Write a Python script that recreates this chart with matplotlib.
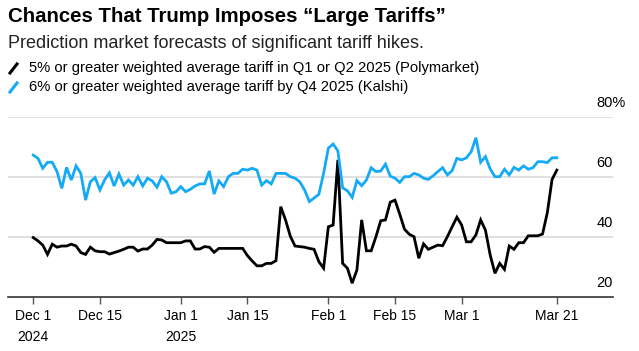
import numpy as np
import pandas as pd
import matplotlib
matplotlib.use('Agg')
import matplotlib.pyplot as plt
import matplotlib.dates as mdates
from matplotlib.lines import Line2D

# daily values, Dec 1 2024 -> Mar 21 2025
polymarket = [39.8, 38.7, 37.3, 34.2, 37.6, 36.6, 37.0, 37.0, 37.6, 37.0,
              34.8, 34.2, 36.6, 35.4, 35.1, 35.1, 34.3, 34.8, 35.3, 35.9,
              36.6, 36.6, 35.3, 36.0, 36.0, 37.3, 39.2, 39.0, 38.1, 38.1,
              38.1, 38.1, 38.7, 38.7, 36.0, 36.0, 36.8, 36.6, 34.9, 36.2,
              36.2, 36.2, 36.2, 36.2, 36.2, 33.8, 32.0, 30.4, 30.4, 31.2,
              31.2, 32.1, 50.1, 45.7, 40.3, 37.0, 36.8, 36.6, 36.2, 35.9,
              31.8, 29.6, 43.4, 44.0, 65.7, 31.2, 29.6, 24.6, 29.0, 45.7,
              35.4, 35.4, 40.1, 45.4, 45.7, 51.6, 52.3, 47.6, 42.6, 40.9,
              40.1, 32.9, 37.7, 35.9, 36.6, 37.3, 37.1, 40.1, 43.4, 46.6,
              44.0, 38.4, 38.4, 40.7, 45.7, 42.3, 34.0, 27.9, 31.2, 29.2,
              37.0, 35.9, 38.1, 38.1, 40.4, 40.4, 40.4, 41.0, 48.1, 59.2,
              62.3]
kalshi = [67.3, 66.2, 62.9, 64.9, 64.9, 61.8, 56.2, 63.2, 59.0, 63.7,
          61.2, 52.3, 58.4, 59.8, 55.7, 59.0, 61.4, 57.0, 61.0, 57.3,
          59.0, 57.3, 60.1, 57.0, 59.6, 58.7, 56.6, 60.1, 58.4, 54.6,
          55.1, 56.8, 55.1, 55.9, 57.0, 57.7, 57.7, 62.0, 54.3, 58.7,
          56.8, 60.1, 61.2, 61.2, 62.6, 62.3, 62.9, 62.3, 57.3, 58.8,
          57.7, 61.2, 61.2, 61.2, 60.1, 59.6, 58.4, 55.7, 51.8, 53.0,
          54.2, 61.2, 69.6, 71.0, 68.7, 56.4, 55.4, 53.2, 58.8, 57.1,
          59.0, 63.1, 61.8, 62.0, 64.3, 60.3, 59.6, 58.2, 60.1, 60.1,
          61.2, 60.7, 59.6, 59.2, 60.4, 61.8, 63.1, 60.7, 62.1, 66.2,
          65.7, 66.4, 68.4, 73.1, 64.9, 66.8, 62.7, 60.1, 60.1, 62.6,
          60.7, 63.2, 62.3, 63.7, 62.6, 63.1, 65.1, 65.1, 64.8, 66.4,
          66.4]
dates = pd.date_range('2024-12-01', periods=len(kalshi), freq='D')

tick_dates = ['2024-12-01', '2024-12-15', '2025-01-01', '2025-01-15',
              '2025-02-01', '2025-02-15', '2025-03-01', '2025-03-21']
tick_labels = ['Dec 1\n2024', 'Dec 15', 'Jan 1\n2025', 'Jan 15',
               'Feb 1', 'Feb 15', 'Mar 1', 'Mar 21']
y_ticks = [20, 40, 60, 80]

black = '#000000'
blue = '#14aaf5'
W, H = 639, 351

plt.rcParams['font.family'] = ['Liberation Sans', 'DejaVu Sans']
fig = plt.figure(figsize=(W / 100, H / 100), dpi=100)
ax = fig.add_axes([8 / W, 1 - 297 / H, (613 - 8) / W, (297 - 117) / H])

ax.plot(dates, polymarket, color=black, lw=2, solid_joinstyle='miter', zorder=3)
ax.plot(dates, kalshi, color=blue, lw=2, solid_joinstyle='miter', zorder=3)

start = mdates.date2num(pd.Timestamp('2024-12-01'))
ax.set_xlim(start - 5.3, start + 121.8)
ax.set_ylim(20, 80)

for v in y_ticks[1:]:
    ax.axhline(v, color='#dddddd', lw=1.3, zorder=1)
for s in ['top', 'right', 'left']:
    ax.spines[s].set_visible(False)
ax.spines['bottom'].set_color('#333333')
ax.spines['bottom'].set_linewidth(1.2)
ax.set_yticks([])

ax.set_xticks(mdates.date2num(pd.to_datetime(tick_dates)))
ax.set_xticklabels(tick_labels, fontsize=10, linespacing=1.55)
ax.tick_params(axis='x', length=5, width=1, color='#555555', pad=4)

for v in y_ticks:
    if v == 80:
        ax.text(1.0 - 17 / 605, v + 2.3, '80%', transform=ax.get_yaxis_transform(),
                ha='left', va='bottom', fontsize=10.5)
    else:
        ax.text(1.0, v + 2.3, str(v), transform=ax.get_yaxis_transform(),
                ha='right', va='bottom', fontsize=10.5)

fig.text(8 / W, 1 - 17 / H, 'Chances That Trump Imposes \u201cLarge Tariffs\u201d',
         fontsize=14.7, fontweight='bold', va='center', ha='left')
fig.text(8 / W, 1 - 44 / H, 'Prediction market forecasts of significant tariff hikes.',
         fontsize=13, va='center', ha='left', color='#222222')

legend = [('5% or greater weighted average tariff in Q1 or Q2 2025 (Polymarket)', black, 68),
          ('6% or greater weighted average tariff by Q4 2025 (Kalshi)', blue, 87)]
for label, c, y in legend:
    fig.add_artist(Line2D([10 / W, 17 / W], [1 - (y + 5) / H, 1 - (y - 4) / H],
                          color=c, lw=2.2, transform=fig.transFigure))
    fig.text(29 / W, 1 - y / H, label, fontsize=10.6, va='center', ha='left')

fig.savefig('out.png', dpi=100)
